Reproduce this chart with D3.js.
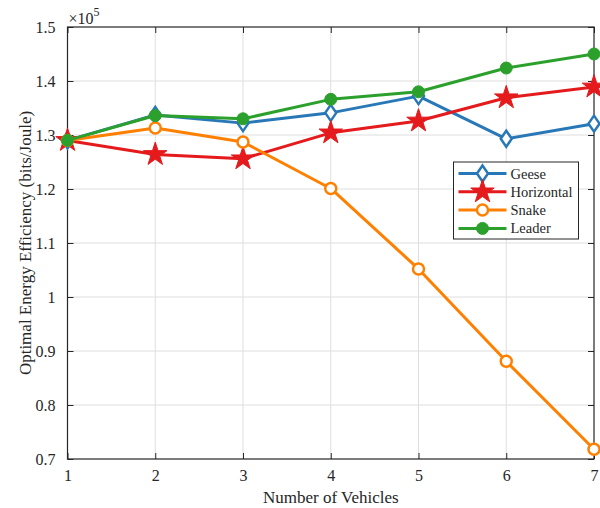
<!DOCTYPE html>
<html>
<head>
<meta charset="utf-8">
<script src="https://cdn.jsdelivr.net/npm/d3@7"></script>
<style>
  body { margin: 0; background: #fff; }
  svg text, svg tspan { font-family: "Liberation Serif", "Times New Roman", serif; fill: #262626; }
</style>
</head>
<body>
<div id="chart"></div>
<script>
// data (values in units of 1e5 bits/Joule)
var vehicles = [1, 2, 3, 4, 5, 6, 7];
var geese = [1.290, 1.337, 1.322, 1.341, 1.372, 1.293, 1.321];
var horizontal = [1.290, 1.264, 1.256, 1.304, 1.326, 1.369, 1.389];
var snake = [1.290, 1.313, 1.287, 1.201, 1.052, 0.881, 0.718];
var leader = [1.290, 1.336, 1.330, 1.366, 1.380, 1.424, 1.450];
var seriesNames = ["Geese", "Horizontal", "Snake", "Leader"];
var yTicks = [0.7, 0.8, 0.9, 1, 1.1, 1.2, 1.3, 1.4, 1.5];

var colors = { Geese: "#2878b8", Horizontal: "#e41a1c", Snake: "#ff8000", Leader: "#2ca02c" };
var serif = "'Liberation Serif', 'Times New Roman', serif";

var W = 600, H = 508;
var margin = { top: 27, right: 6, bottom: 49, left: 67.5 };
var width = W - margin.left - margin.right,
    height = H - margin.top - margin.bottom;

var svg = d3.select("#chart").append("svg")
    .attr("width", W)
    .attr("height", H);

var g = svg.append("g")
    .attr("transform", "translate(" + margin.left + "," + margin.top + ")");

var x = d3.scaleLinear().domain([1, 7]).range([0, width]);
var y = d3.scaleLinear().domain([0.7, 1.5]).range([height, 0]);

// grid
g.append("g").selectAll("line.vg")
    .data(vehicles.slice(1, -1))
    .enter().append("line")
    .attr("x1", function(d) { return x(d); })
    .attr("x2", function(d) { return x(d); })
    .attr("y1", 0).attr("y2", height)
    .attr("stroke", "#dedede").attr("stroke-width", 1);
g.append("g").selectAll("line.hg")
    .data(yTicks.slice(1, -1))
    .enter().append("line")
    .attr("y1", function(d) { return y(d); })
    .attr("y2", function(d) { return y(d); })
    .attr("x1", 0).attr("x2", width)
    .attr("stroke", "#dedede").attr("stroke-width", 1);

// axes (ticks point inward, mirrored on top/right)
function styleAxis(sel) {
    sel.attr("font-family", serif);
    sel.select(".domain").remove();
    sel.selectAll(".tick line").attr("stroke", "#262626");
    sel.selectAll(".tick text")
        .style("font-family", serif)
        .style("font-size", "16px")
        .attr("fill", "#262626");
}
var fmt = function(d) { return d === 1 ? "1" : d3.format(".1f")(d); };

g.append("g")
    .attr("transform", "translate(0," + height + ")")
    .call(d3.axisBottom(x).tickValues(vehicles).tickFormat(d3.format("d")).tickSizeInner(-6).tickPadding(11))
    .call(styleAxis);
g.append("g")
    .call(d3.axisTop(x).tickValues(vehicles).tickFormat("").tickSizeInner(-6))
    .call(styleAxis);
g.append("g")
    .call(d3.axisLeft(y).tickValues(yTicks).tickFormat(fmt).tickSizeInner(-6).tickPadding(12))
    .call(styleAxis);
g.append("g")
    .attr("transform", "translate(" + width + ",0)")
    .call(d3.axisRight(y).tickValues(yTicks).tickFormat("").tickSizeInner(-6))
    .call(styleAxis);

g.append("rect")
    .attr("width", width).attr("height", height)
    .attr("fill", "none").attr("stroke", "#262626").attr("stroke-width", 1.2);

// exponent label
var expo = svg.append("text")
    .attr("x", margin.left + 1)
    .attr("y", 24)
    .style("font-family", serif);
expo.append("tspan").style("font-size", "16px").text("\u00d710");
expo.append("tspan").attr("dy", -8).style("font-size", "12px").text("5");

// axis titles
svg.append("text")
    .attr("x", margin.left + width / 2)
    .attr("y", 503)
    .attr("text-anchor", "middle")
    .style("font-family", serif)
    .style("font-size", "17px")
    .text("Number of Vehicles");
svg.append("text")
    .attr("transform", "translate(31," + (margin.top + height / 2) + ") rotate(-90)")
    .attr("text-anchor", "middle")
    .style("font-family", serif)
    .style("font-size", "17px")
    .text("Optimal Energy Efficiency (bits/Joule)");

// markers
function drawMarker(sel, name) {
    var c = colors[name];
    if (name === "Geese") {
        sel.append("path")
            .attr("d", "M0,-8L5.5,0L0,8L-5.5,0Z")
            .attr("fill", "#fff").attr("stroke", c).attr("stroke-width", 2.5);
    } else if (name === "Horizontal") {
        sel.append("path")
            .attr("d", d3.symbol().type(d3.symbolStar).size(170)())
            .attr("fill", c).attr("stroke", c).attr("stroke-width", 1);
    } else if (name === "Snake") {
        sel.append("circle").attr("r", 5.5)
            .attr("fill", "#fff").attr("stroke", c).attr("stroke-width", 2.5);
    } else {
        sel.append("circle").attr("r", 6)
            .attr("fill", c).attr("stroke", c).attr("stroke-width", 1);
    }
}

var seriesData = { Geese: geese, Horizontal: horizontal, Snake: snake, Leader: leader };
var line = d3.line()
    .x(function(d, i) { return x(vehicles[i]); })
    .y(function(d) { return y(d); });

seriesNames.forEach(function(name) {
    var vals = seriesData[name];
    var sg = g.append("g");
    sg.append("path")
        .datum(vals)
        .attr("d", line)
        .attr("fill", "none")
        .attr("stroke", colors[name])
        .attr("stroke-width", 3)
        .attr("stroke-linejoin", "round");
    sg.selectAll("g.pt")
        .data(vals)
        .enter().append("g")
        .attr("transform", function(d, i) { return "translate(" + x(vehicles[i]) + "," + y(d) + ")"; })
        .each(function() { drawMarker(d3.select(this), name); });
});

// legend
var lg = svg.append("g").attr("transform", "translate(453.5,162)");
lg.append("rect")
    .attr("width", 125).attr("height", 77)
    .attr("fill", "#fff").attr("stroke", "#262626").attr("stroke-width", 1);
seriesNames.forEach(function(name, i) {
    var row = lg.append("g").attr("transform", "translate(0," + (11.5 + i * 18.3) + ")");
    row.append("line")
        .attr("x1", 5).attr("x2", 53)
        .attr("stroke", colors[name]).attr("stroke-width", 3);
    var m = row.append("g").attr("transform", "translate(29,0)");
    drawMarker(m, name);
    row.append("text")
        .attr("x", 57).attr("y", 5)
        .style("font-family", serif)
        .style("font-size", "14.5px")
        .text(name);
});
</script>
</body>
</html>
